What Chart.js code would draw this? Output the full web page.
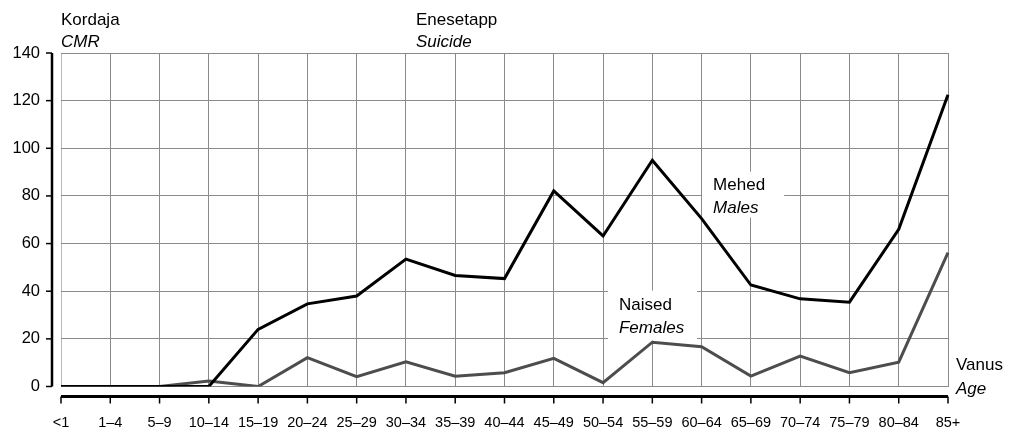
<!DOCTYPE html>
<html>
<head>
<meta charset="utf-8">
<script src="https://cdn.jsdelivr.net/npm/chart.js@4"></script>
<style>
  html, body { margin: 0; padding: 0; background: #fff; }
  #wrap { width: 1017px; height: 432px; position: relative; }
</style>
</head>
<body>
<div id="wrap"><canvas id="chart"></canvas></div>
<script>
// Age groups along the horizontal axis
const ageGroups = ['<1', '1–4', '5–9', '10–14', '15–19', '20–24', '25–29', '30–34', '35–39',
  '40–44', '45–49', '50–54', '55–59', '60–64', '65–69', '70–74', '75–79', '80–84', '85+'];

// Suicide rates (CMR) per age group
const malesRate = [0, 0, 0, 0, 24, 34.7, 38, 53.5, 46.6, 45.3, 82.1, 63.2, 95, 70.5, 42.6, 36.8, 35.4, 66, 122.5];
const femalesRate = [0, 0, 0, 2.3, 0, 12.1, 4.1, 10.4, 4.3, 5.8, 11.8, 1.6, 18.6, 16.7, 4.4, 12.8, 5.8, 10.2, 56.2];

// Value axis range
const yMin = 0;
const yMax = 140;
const yStep = 20;

// Bilingual captions
const yTitle = ['Kordaja', 'CMR'];
const chartTitle = ['Enesetapp', 'Suicide'];
const xTitle = ['Vanus', 'Age'];
const malesLabel = ['Mehed', 'Males'];
const femalesLabel = ['Naised', 'Females'];

const FONT = '"Liberation Sans", Arial, Helvetica, sans-serif';

// where the series captions sit, in axis units (category index, value)
const malesCaptionAt = { i: 13.01, v: 90.2 };
const femalesCaptionAt = { i: 11.1, v: 40.3 };

function drawPair(ctx, lines, x, y1, y2) {
  ctx.font = '17px ' + FONT;
  ctx.fillText(lines[0], x, y1);
  ctx.font = 'italic 17px ' + FONT;
  ctx.fillText(lines[1], x, y2);
}

// Axis rules, tick marks and captions drawn around the plot area
const decorations = {
  id: 'decorations',
  beforeDatasetsDraw(chart) {
    const { ctx, scales: { x, y } } = chart;
    ctx.save();
    ctx.fillStyle = '#fff';
    // clear the grid behind the in-plot series captions
    ctx.fillRect(x.getPixelForValue(malesCaptionAt.i), y.getPixelForValue(malesCaptionAt.v), 82, 46);
    ctx.fillRect(x.getPixelForValue(femalesCaptionAt.i), y.getPixelForValue(femalesCaptionAt.v), 89, 50);
    ctx.restore();
  },
  afterDraw(chart) {
    const { ctx, chartArea: a, scales: { x, y } } = chart;
    ctx.save();
    ctx.strokeStyle = '#000';
    // vertical value axis, set off to the left of the plot
    const ax = a.left - 9;
    ctx.lineWidth = 2.5;
    ctx.beginPath();
    ctx.moveTo(ax, y.getPixelForValue(yMax));
    ctx.lineTo(ax, y.getPixelForValue(yMin));
    ctx.stroke();
    ctx.lineWidth = 1.5;
    for (let v = yMin; v <= yMax; v += yStep) {
      const py = y.getPixelForValue(v);
      ctx.beginPath();
      ctx.moveTo(ax - 6, py);
      ctx.lineTo(ax, py);
      ctx.stroke();
    }
    // horizontal category axis, set off below the plot
    const ay = a.bottom + 10;
    ctx.lineWidth = 3;
    ctx.beginPath();
    ctx.moveTo(x.getPixelForValue(0), ay);
    ctx.lineTo(x.getPixelForValue(ageGroups.length - 1), ay);
    ctx.stroke();
    ctx.lineWidth = 1.5;
    ageGroups.forEach((_, i) => {
      const px = x.getPixelForValue(i);
      ctx.beginPath();
      ctx.moveTo(px, ay);
      ctx.lineTo(px, ay + 7);
      ctx.stroke();
    });

    // captions
    ctx.fillStyle = '#000';
    ctx.textAlign = 'left';
    ctx.textBaseline = 'alphabetic';
    drawPair(ctx, yTitle, a.left, 25, 47);
    drawPair(ctx, chartTitle, 416, 25, 47);
    drawPair(ctx, xTitle, a.right + 8, 369.5, 393.5);
    drawPair(ctx, malesLabel, x.getPixelForValue(malesCaptionAt.i) + 11, 189.5, 213);
    drawPair(ctx, femalesLabel, x.getPixelForValue(femalesCaptionAt.i) + 11, 310, 333);
    ctx.restore();
  }
};

new Chart(document.getElementById('chart'), {
  type: 'line',
  data: {
    labels: ageGroups,
    datasets: [
      {
        label: malesLabel.join(' / '),
        data: malesRate,
        borderColor: '#000',
        borderWidth: 3,
        pointRadius: 0,
        tension: 0,
        fill: false
      },
      {
        label: femalesLabel.join(' / '),
        data: femalesRate,
        borderColor: '#4d4d4d',
        borderWidth: 3,
        pointRadius: 0,
        tension: 0,
        fill: false
      }
    ]
  },
  options: {
    responsive: true,
    maintainAspectRatio: false,
    animation: false,
    layout: { padding: { top: 53, right: 69, left: 0, bottom: 0 } },
    plugins: {
      legend: { display: false },
      tooltip: { enabled: false },
      title: { display: false }
    },
    scales: {
      x: {
        offset: false,
        border: { display: false },
        grid: {
          drawTicks: false,
          color: (c) => (c.index === 0 ? '#b8b8b8' : '#8a8a8a'),
          lineWidth: 1
        },
        ticks: {
          autoSkip: false,
          maxRotation: 0,
          padding: 28,
          color: '#000',
          font: { family: FONT, size: 14.5 }
        },
        afterFit(scale) { scale.height = 45.5; }
      },
      y: {
        min: yMin,
        max: yMax,
        border: { display: false },
        grid: { drawTicks: false, color: '#8a8a8a', lineWidth: 1 },
        ticks: {
          stepSize: yStep,
          padding: 21,
          color: '#000',
          font: { family: FONT, size: 16.5 }
        },
        afterFit(scale) { scale.width = 61; }
      }
    }
  },
  plugins: [decorations]
});
</script>
</body>
</html>
